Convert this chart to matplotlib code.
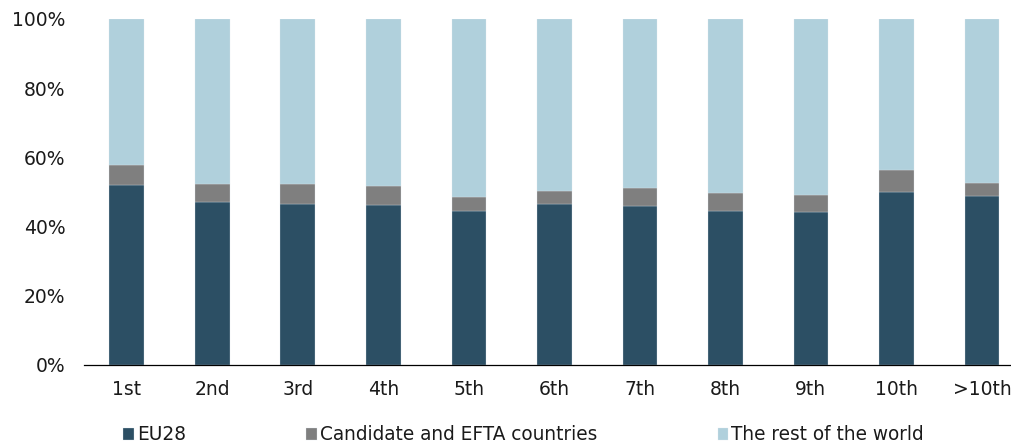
import matplotlib
matplotlib.use("Agg")
import matplotlib.pyplot as plt
import numpy as np

# Share by rank (in %)
rangos = ["1st", "2nd", "3rd", "4th", "5th", "6th", "7th", "8th", "9th", "10th", ">10th"]
eu28 = [51.9, 47.2, 46.4, 46.1, 44.4, 46.4, 45.9, 44.6, 44.1, 50.0, 48.7]
candidatos_efta = [5.9, 5.0, 5.9, 5.6, 4.1, 3.9, 5.3, 5.2, 5.1, 6.5, 3.9]
resto_mundo = [100 - a - b for a, b in zip(eu28, candidatos_efta)]

etiquetas = ["EU28", "Candidate and EFTA countries", "The rest of the world"]
colores = ["#2C4F64", "#7F7F7F", "#B0D0DC"]

plt.rcParams["font.family"] = ["DejaVu Sans"]

fig = plt.figure(figsize=(10.12, 4.47), dpi=100)
ax = fig.add_axes([84 / 1012, 82 / 447, 927 / 1012, 346 / 447])

x = np.arange(len(rangos))
ancho = 0.405
abajo = np.zeros(len(rangos))
for serie, etiqueta, color in zip([eu28, candidatos_efta, resto_mundo], etiquetas, colores):
    ax.bar(x, serie, ancho, bottom=abajo, color=color, label=etiqueta,
           edgecolor="#dfe8ec", linewidth=0.2)
    abajo += np.array(serie)

ax.set_xlim(-0.5, 10.34)
ax.set_ylim(0, 100)
ax.set_yticks(np.arange(0, 101, 20))
ax.set_yticklabels([f"{v}%" for v in range(0, 101, 20)])
ax.set_xticks(x)
ax.set_xticklabels(rangos)
ax.tick_params(axis="y", length=0, pad=13.5, labelsize=13.5, colors="#1a1a1a")
ax.tick_params(axis="x", length=0, pad=11, labelsize=13.5, colors="#1a1a1a")

for lado in ["top", "right", "left"]:
    ax.spines[lado].set_visible(False)
ax.spines["bottom"].set_color("#000000")
ax.spines["bottom"].set_linewidth(0.9)

fig.legend(loc="center left", bbox_to_anchor=(123 / 1012, 1 - 435 / 447), ncol=3,
           frameon=False, fontsize=13.35, borderpad=0, borderaxespad=0,
           handlelength=0.57, handleheight=0.57, handletextpad=0.17,
           columnspacing=6.5, labelcolor="#1a1a1a")

fig.savefig("out.png", dpi=100)
